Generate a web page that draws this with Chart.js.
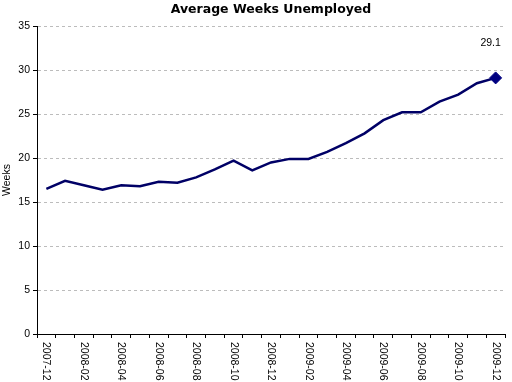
<!DOCTYPE html>
<html>
<head>
<meta charset="utf-8">
<script src="https://cdn.jsdelivr.net/npm/chart.js@4/dist/chart.umd.min.js"></script>
<style>
  html, body { margin: 0; padding: 0; background: #ffffff; }
  #wrap { width: 512px; height: 382px; }
</style>
</head>
<body>
<div id="wrap"><canvas id="c" width="512" height="382"></canvas></div>
<script>
const months = ['2007-12','2008-01','2008-02','2008-03','2008-04','2008-05','2008-06','2008-07','2008-08','2008-09','2008-10','2008-11','2008-12',
                '2009-01','2009-02','2009-03','2009-04','2009-05','2009-06','2009-07','2009-08','2009-09','2009-10','2009-11','2009-12'];
const weeks = [16.5, 17.4, 16.9, 16.4, 16.9, 16.8, 17.3, 17.2, 17.8, 18.7, 19.7, 18.6, 19.5,
               19.9, 19.9, 20.7, 21.7, 22.8, 24.3, 25.2, 25.2, 26.4, 27.2, 28.5, 29.1];
const yTicks = [0, 5, 10, 15, 20, 25, 30, 35];
const titleText = 'Average Weeks Unemployed';
const yTitle = 'Weeks';

const FONT = "'Liberation Sans', Arial, sans-serif";
const lastIdx = weeks.length - 1;

const xLabelPlugin = {
  id: 'xLabels',
  afterDraw(chart) {
    const sc = chart.scales.x;
    const ctx = chart.ctx;
    ctx.save();
    ctx.font = '10.5px ' + FONT;
    ctx.fillStyle = '#000000';
    ctx.textAlign = 'left';
    ctx.textBaseline = 'middle';
    months.forEach((m, i) => {
      if (i % 2 !== 0) return;
      const x = sc.getPixelForTick(i);
      const y = sc.top + 8;
      ctx.save();
      ctx.translate(x, y);
      ctx.rotate(Math.PI / 2);
      ctx.fillText(m, 0, 0);
      ctx.restore();
    });
    ctx.restore();
  }
};

const lastLabelPlugin = {
  id: 'lastLabel',
  afterDatasetsDraw(chart) {
    const meta = chart.getDatasetMeta(0);
    const pt = meta.data[lastIdx];
    const ctx = chart.ctx;
    ctx.save();
    ctx.font = '10.5px ' + FONT;
    ctx.fillStyle = '#000000';
    ctx.textAlign = 'center';
    ctx.textBaseline = 'middle';
    ctx.fillText(weeks[lastIdx].toFixed(1), pt.x - 5, pt.y - 35);
    ctx.restore();
  }
};

new Chart(document.getElementById('c'), {
  type: 'line',
  data: {
    labels: months,
    datasets: [{
      data: weeks,
      borderColor: '#000066',
      borderWidth: 2.5,
      tension: 0,
      pointStyle: 'rectRot',
      pointRadius: weeks.map((v, i) => i === lastIdx ? 6 : 0),
      pointHoverRadius: 0,
      pointBackgroundColor: '#000080',
      pointBorderColor: '#000080',
      pointBorderWidth: 1
    }]
  },
  options: {
    responsive: false,
    animation: false,
    events: [],
    layout: { padding: { left: 0, right: 2, top: 0, bottom: 0 } },
    plugins: {
      legend: { display: false },
      tooltip: { enabled: false },
      title: {
        display: true,
        text: titleText,
        fullSize: false,
        color: '#000000',
        font: { family: "'DejaVu Sans', sans-serif", size: 12.5, weight: 'bold' },
        padding: { top: 2, bottom: 9 }
      }
    },
    scales: {
      x: {
        type: 'category',
        offset: true,
        grid: {
          offset: true,
          drawOnChartArea: false,
          drawTicks: true,
          tickLength: 4,
          tickColor: '#000000',
          color: '#000000'
        },
        border: { display: true, color: '#000000', width: 1 },
        ticks: { display: false, autoSkip: false },
        afterFit(scale) { scale.height = 48; }
      },
      y: {
        min: 0,
        max: 35,
        afterBuildTicks(scale) { scale.ticks = yTicks.map(v => ({ value: v })); },
        ticks: {
          color: '#000000',
          padding: 3,
          font: { family: FONT, size: 10.5 }
        },
        grid: {
          color: '#bcbcbc',
          lineWidth: 1,
          drawTicks: true,
          tickLength: 4,
          tickColor: '#000000'
        },
        border: { display: true, color: '#000000', width: 1, dash: [3, 3] },
        title: {
          display: true,
          text: yTitle,
          color: '#000000',
          font: { family: FONT, size: 10.5 },
          padding: { top: 1, bottom: 0 }
        },
        afterFit(scale) { scale.width = 37; }
      }
    }
  },
  plugins: [xLabelPlugin, lastLabelPlugin]
});
</script>
</body>
</html>
